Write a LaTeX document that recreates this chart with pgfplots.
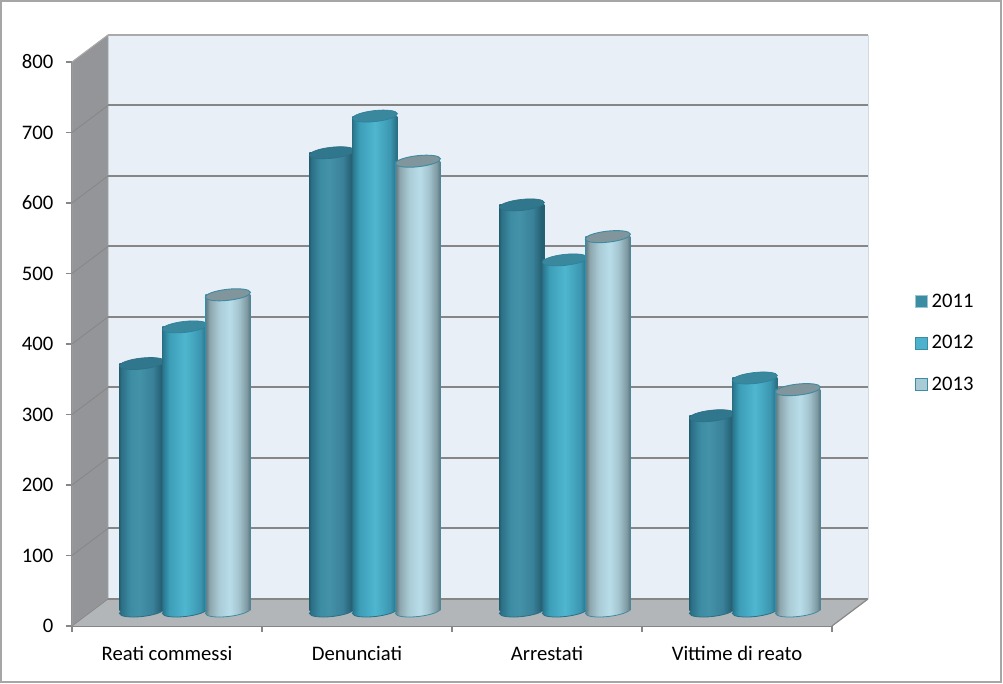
\documentclass[border=0pt]{standalone}
\usepackage{fontspec}
\setmainfont{Carlito}
\usepackage{pgfplots}
\pgfplotsset{compat=1.18}

\definecolor{gridc}{HTML}{868686}
\definecolor{wallc}{HTML}{E8EFF6}
\definecolor{sidec}{HTML}{939598}
\definecolor{floorc}{HTML}{B3B6B8}
\definecolor{framec}{HTML}{A6A6A6}

\definecolor{a0}{HTML}{235F72}\definecolor{a1}{HTML}{2C6F85}\definecolor{a2}{HTML}{3C8CA3}
\definecolor{a3}{HTML}{4492A8}\definecolor{a4}{HTML}{3A8199}\definecolor{a5}{HTML}{245F72}
\definecolor{b0}{HTML}{2A7A92}\definecolor{b1}{HTML}{3D9EB8}\definecolor{b2}{HTML}{4FB6D0}
\definecolor{b3}{HTML}{3C97B0}\definecolor{b4}{HTML}{2B6F85}
\definecolor{c0}{HTML}{3F8BA2}\definecolor{c1}{HTML}{6A7F86}\definecolor{c2}{HTML}{8EA6AD}
\definecolor{c3}{HTML}{A9CBD6}\definecolor{c4}{HTML}{B8DDE9}\definecolor{c5}{HTML}{A4C5D0}
\definecolor{c6}{HTML}{7F9AA3}\definecolor{c7}{HTML}{5F7F8A}

\pgfdeclarehorizontalshading{cylA}{100bp}{color(0bp)=(a0);color(25bp)=(a0);color(27bp)=(a1);color(37bp)=(a2);color(47bp)=(a3);color(62bp)=(a4);color(72bp)=(a5);color(75bp)=(a5);color(100bp)=(a5)}
\pgfdeclarehorizontalshading{cylB}{100bp}{color(0bp)=(b4);color(25bp)=(b4);color(26bp)=(b0);color(33bp)=(b1);color(50bp)=(b2);color(67bp)=(b3);color(74bp)=(b4);color(75bp)=(b4);color(100bp)=(b4)}
\pgfdeclarehorizontalshading{cylC}{100bp}{color(0bp)=(c0);color(25bp)=(c0);color(26bp)=(c1);color(30bp)=(c2);color(40bp)=(c3);color(52bp)=(c4);color(62bp)=(c5);color(71bp)=(c6);color(74bp)=(c7);color(75bp)=(c0);color(100bp)=(c0)}

\newcommand{\cylpath}{\pgfpathellipse{\pgfpointorigin}{\pgfqpoint{16.9pt}{1.9pt}}{\pgfqpoint{-0.6pt}{4.1pt}}}
\pgfdeclareplotmark{topcyl}{\cylpath\pgfusepathqfillstroke}
\pgfdeclareplotmark{baseA}{\cylpath\pgfshadepath{cylA}{0}\pgfusepath{stroke}}
\pgfdeclareplotmark{baseB}{\cylpath\pgfshadepath{cylB}{0}\pgfusepath{stroke}}
\pgfdeclareplotmark{baseC}{\cylpath\pgfshadepath{cylC}{0}\pgfusepath{stroke}}

\pgfplotsset{
  topA/.style={mark=topcyl,mark options={draw=a0!60!a2,fill=a1!75!a2,line width=0.5pt}},
  topB/.style={mark=topcyl,mark options={draw=b0!80!b1,fill=a2!85!a1,line width=0.5pt}},
  topC/.style={mark=topcyl,mark options={draw=c0,fill=c2!90!black,line width=0.7pt}},
  edgeA/.style={mark options={draw=a1,line width=0.6pt}},
  edgeB/.style={mark options={draw=b4,line width=0.6pt}},
  edgeC/.style={mark options={draw=c0,line width=0.6pt}},
}
% one cylinder: #1 series letter, #2 category position, #3 value
\newcommand{\cyl}[3]{%
  \addplot[only marks,mark=base#1,edge#1,forget plot] coordinates {(#2,0)};
  \addplot[ybar,bar shift=0pt,bar width=33.75pt,draw=none,shade,shading=cyl#1,top#1,forget plot] coordinates {(#2,#3)};
}
% one gridline: #1 value at the front, #2 the same line on the back wall, #3 colour
\newcommand{\gridl}[3]{%
  \addplot[draw=#3,line width=0.6pt,forget plot] coordinates {(0,#1) (0.1895,#2)};
  \addplot[draw=#3,line width=1.5pt,forget plot] coordinates {(0.1895,#2) (4.1895,#2)};
}

\begin{document}
\begin{tikzpicture}[x=0.75pt,y=0.75pt]
\path[use as bounding box] (0,0) rectangle (1003,684);
\draw[framec,line width=1.5pt] (1,2) rectangle (1001,683);

% back structure and scale
\begin{axis}[
  at={(54pt,43.5pt)}, anchor=south west,
  scale only axis, width=570pt, height=423pt,
  xmin=0, xmax=4, ymin=0, ymax=800,
  clip=false,
  axis x line*=bottom, axis y line*=left,
  axis line style={-,gridc,line width=1.5pt},
  xtick={0,1,2,3,4}, xticklabels={},
  extra x ticks={0.5,1.5,2.5,3.5},
  extra x tick labels={Reati commessi,Denunciati,Arrestati,Vittime di reato},
  extra x tick style={major tick length=0pt,xticklabel style={yshift=-11.5pt}},
  ytick={0,100,...,800},
  tick style={gridc,line width=0.9pt},
  tick align=outside, major tick length=4.5pt,
  tick label style={font=\fontsize{15.5}{18}\selectfont,text=black},
  /pgf/number format/assume math mode=true,
  yticklabel style={xshift=-6pt},
]
\addplot[draw=none,fill=wallc,forget plot] coordinates {(0.1895,38.3) (4.1895,38.3) (4.1895,838.3) (0.1895,838.3)} -- cycle;
\addplot[draw=sidec!85!white,line width=0.6pt,fill=sidec,forget plot] coordinates {(0,0) (0.1895,38.3) (0.1895,838.3) (0,800)} -- cycle;
\addplot[draw=none,fill=floorc,forget plot] coordinates {(0,0) (4,0) (4.1895,38.3) (0.1895,38.3)} -- cycle;
\addplot[draw=gridc,line width=0.9pt,forget plot] coordinates {(4,0) (4.1895,38.3)};
\addplot[draw=wallc!80!gridc,line width=0.7pt,forget plot] coordinates {(4.1895,38.3) (4.1895,838.3)};
\gridl{0}{38.3}{gridc}
\gridl{100}{138.3}{gridc}
\gridl{200}{238.3}{gridc}
\gridl{300}{338.3}{gridc}
\gridl{400}{438.3}{gridc}
\gridl{500}{538.3}{gridc}
\gridl{600}{638.3}{gridc}
\gridl{700}{738.3}{gridc}
\gridl{800}{838.3}{gridc!70!white}
\end{axis}

% cylinders, on the plane half way into the depth
\begin{axis}[
  at={(67.4pt,54.75pt)}, anchor=south west,
  scale only axis, width=570pt, height=423pt,
  xmin=-0.5, xmax=3.5, ymin=0, ymax=800,
  clip=false, clip marker paths=true, hide axis,
  legend style={draw=none,fill=none,at={(axis description cs:1.085,0.475)},anchor=west,
    font=\fontsize{15.5}{18}\selectfont,row sep=19.5pt,inner sep=0pt,
    nodes={inner sep=0pt,anchor=west}},
  legend cell align=left,
]
\cyl{A}{-0.2263}{351}
\cyl{A}{0.7737}{650}
\cyl{A}{1.7737}{576}
\cyl{A}{2.7737}{277}
\cyl{B}{0}{403}
\cyl{B}{1}{702}
\cyl{B}{2}{498}
\cyl{B}{3}{330.5}
\cyl{C}{0.2263}{448.5}
\cyl{C}{1.2263}{638}
\cyl{C}{2.2263}{531}
\cyl{C}{3.2263}{314}
\addlegendimage{legend image code/.code={\draw[draw=a2!50!white,fill=a2,line width=0.7pt] (0pt,-4.5pt) rectangle (9pt,4.5pt);}}
\addlegendentry{\hspace{3pt}2011}
\addlegendimage{legend image code/.code={\draw[draw=a2,fill=b2!90!a2,line width=0.7pt] (0pt,-4.5pt) rectangle (9pt,4.5pt);}}
\addlegendentry{\hspace{3pt}2012}
\addlegendimage{legend image code/.code={\draw[draw=a2,fill=c3,line width=0.7pt] (0pt,-4.5pt) rectangle (9pt,4.5pt);}}
\addlegendentry{\hspace{3pt}2013}
\end{axis}
\end{tikzpicture}
\end{document}
